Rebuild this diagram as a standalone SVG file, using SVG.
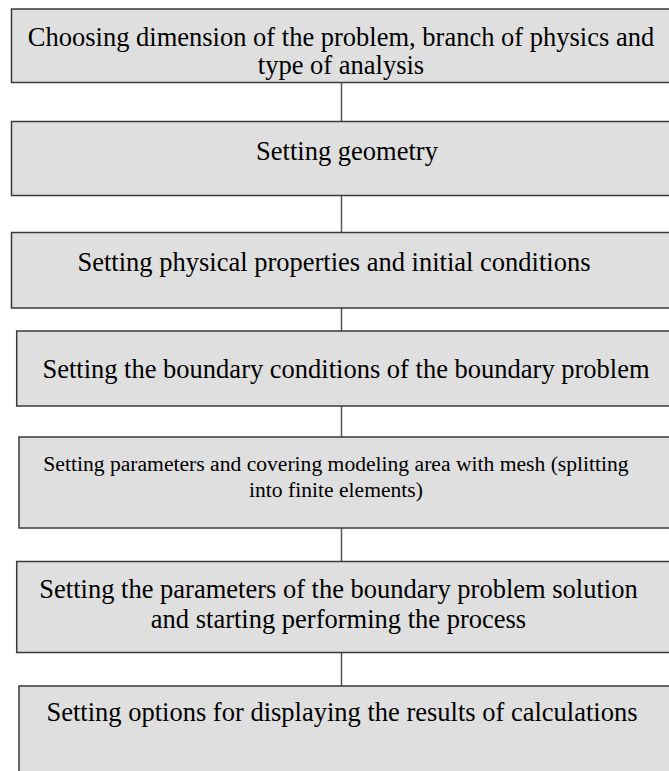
<svg xmlns="http://www.w3.org/2000/svg" width="669" height="771" viewBox="0 0 669 771">
  <style>
    .box { fill: #dfdfdf; stroke: #3a3a3a; stroke-width: 1.5; }
    .t { font-family: "Liberation Serif", "Times New Roman", serif; font-size: 26.5px; fill: #000; text-anchor: middle; }
    .s { font-size: 21.6px; }
    .c { stroke: #555; stroke-width: 1.5; fill: none; }
  </style>
  <rect x="0" y="0" width="669" height="771" fill="#ffffff"/>
  <g id="connectors">
    <line class="c" x1="341.5" y1="82.5" x2="341.5" y2="121.5"/>
    <line class="c" x1="341.5" y1="195.5" x2="341.5" y2="232.5"/>
    <line class="c" x1="341.5" y1="308" x2="341.5" y2="331"/>
    <line class="c" x1="341.5" y1="406" x2="341.5" y2="437"/>
    <line class="c" x1="341.5" y1="528" x2="341.5" y2="561.5"/>
    <line class="c" x1="341.5" y1="652.5" x2="341.5" y2="686"/>
  </g>
  <g id="n1">
    <rect class="box" x="11.5" y="9" width="680" height="73.5"/>
    <text class="t" x="341" y="45.5">Choosing dimension of the problem, branch of physics and</text>
    <text class="t" x="341" y="73.5">type of analysis</text>
  </g>
  <g id="n2">
    <rect class="box" x="11.5" y="121.5" width="680" height="74"/>
    <text class="t" x="347" y="160">Setting geometry</text>
  </g>
  <g id="n3">
    <rect class="box" x="11.5" y="232.5" width="680" height="75.5"/>
    <text class="t" x="334" y="271">Setting physical properties and initial conditions</text>
  </g>
  <g id="n4">
    <rect class="box" x="16.7" y="331" width="680" height="75"/>
    <text class="t" x="346" y="377.5">Setting the boundary conditions of the boundary problem</text>
  </g>
  <g id="n5">
    <rect class="box" x="19" y="437" width="680" height="91"/>
    <text class="t s" x="336" y="470.5">Setting parameters and covering modeling area with mesh (splitting</text>
    <text class="t s" x="336" y="497">into finite elements)</text>
  </g>
  <g id="n6">
    <rect class="box" x="16.7" y="561.5" width="680" height="91"/>
    <text class="t" x="338.5" y="598">Setting the parameters of the boundary problem solution</text>
    <text class="t" x="338.5" y="628">and starting performing the process</text>
  </g>
  <g id="n7">
    <rect class="box" x="19" y="686" width="680" height="120"/>
    <text class="t" x="342" y="721">Setting options for displaying the results of calculations</text>
  </g>
</svg>
